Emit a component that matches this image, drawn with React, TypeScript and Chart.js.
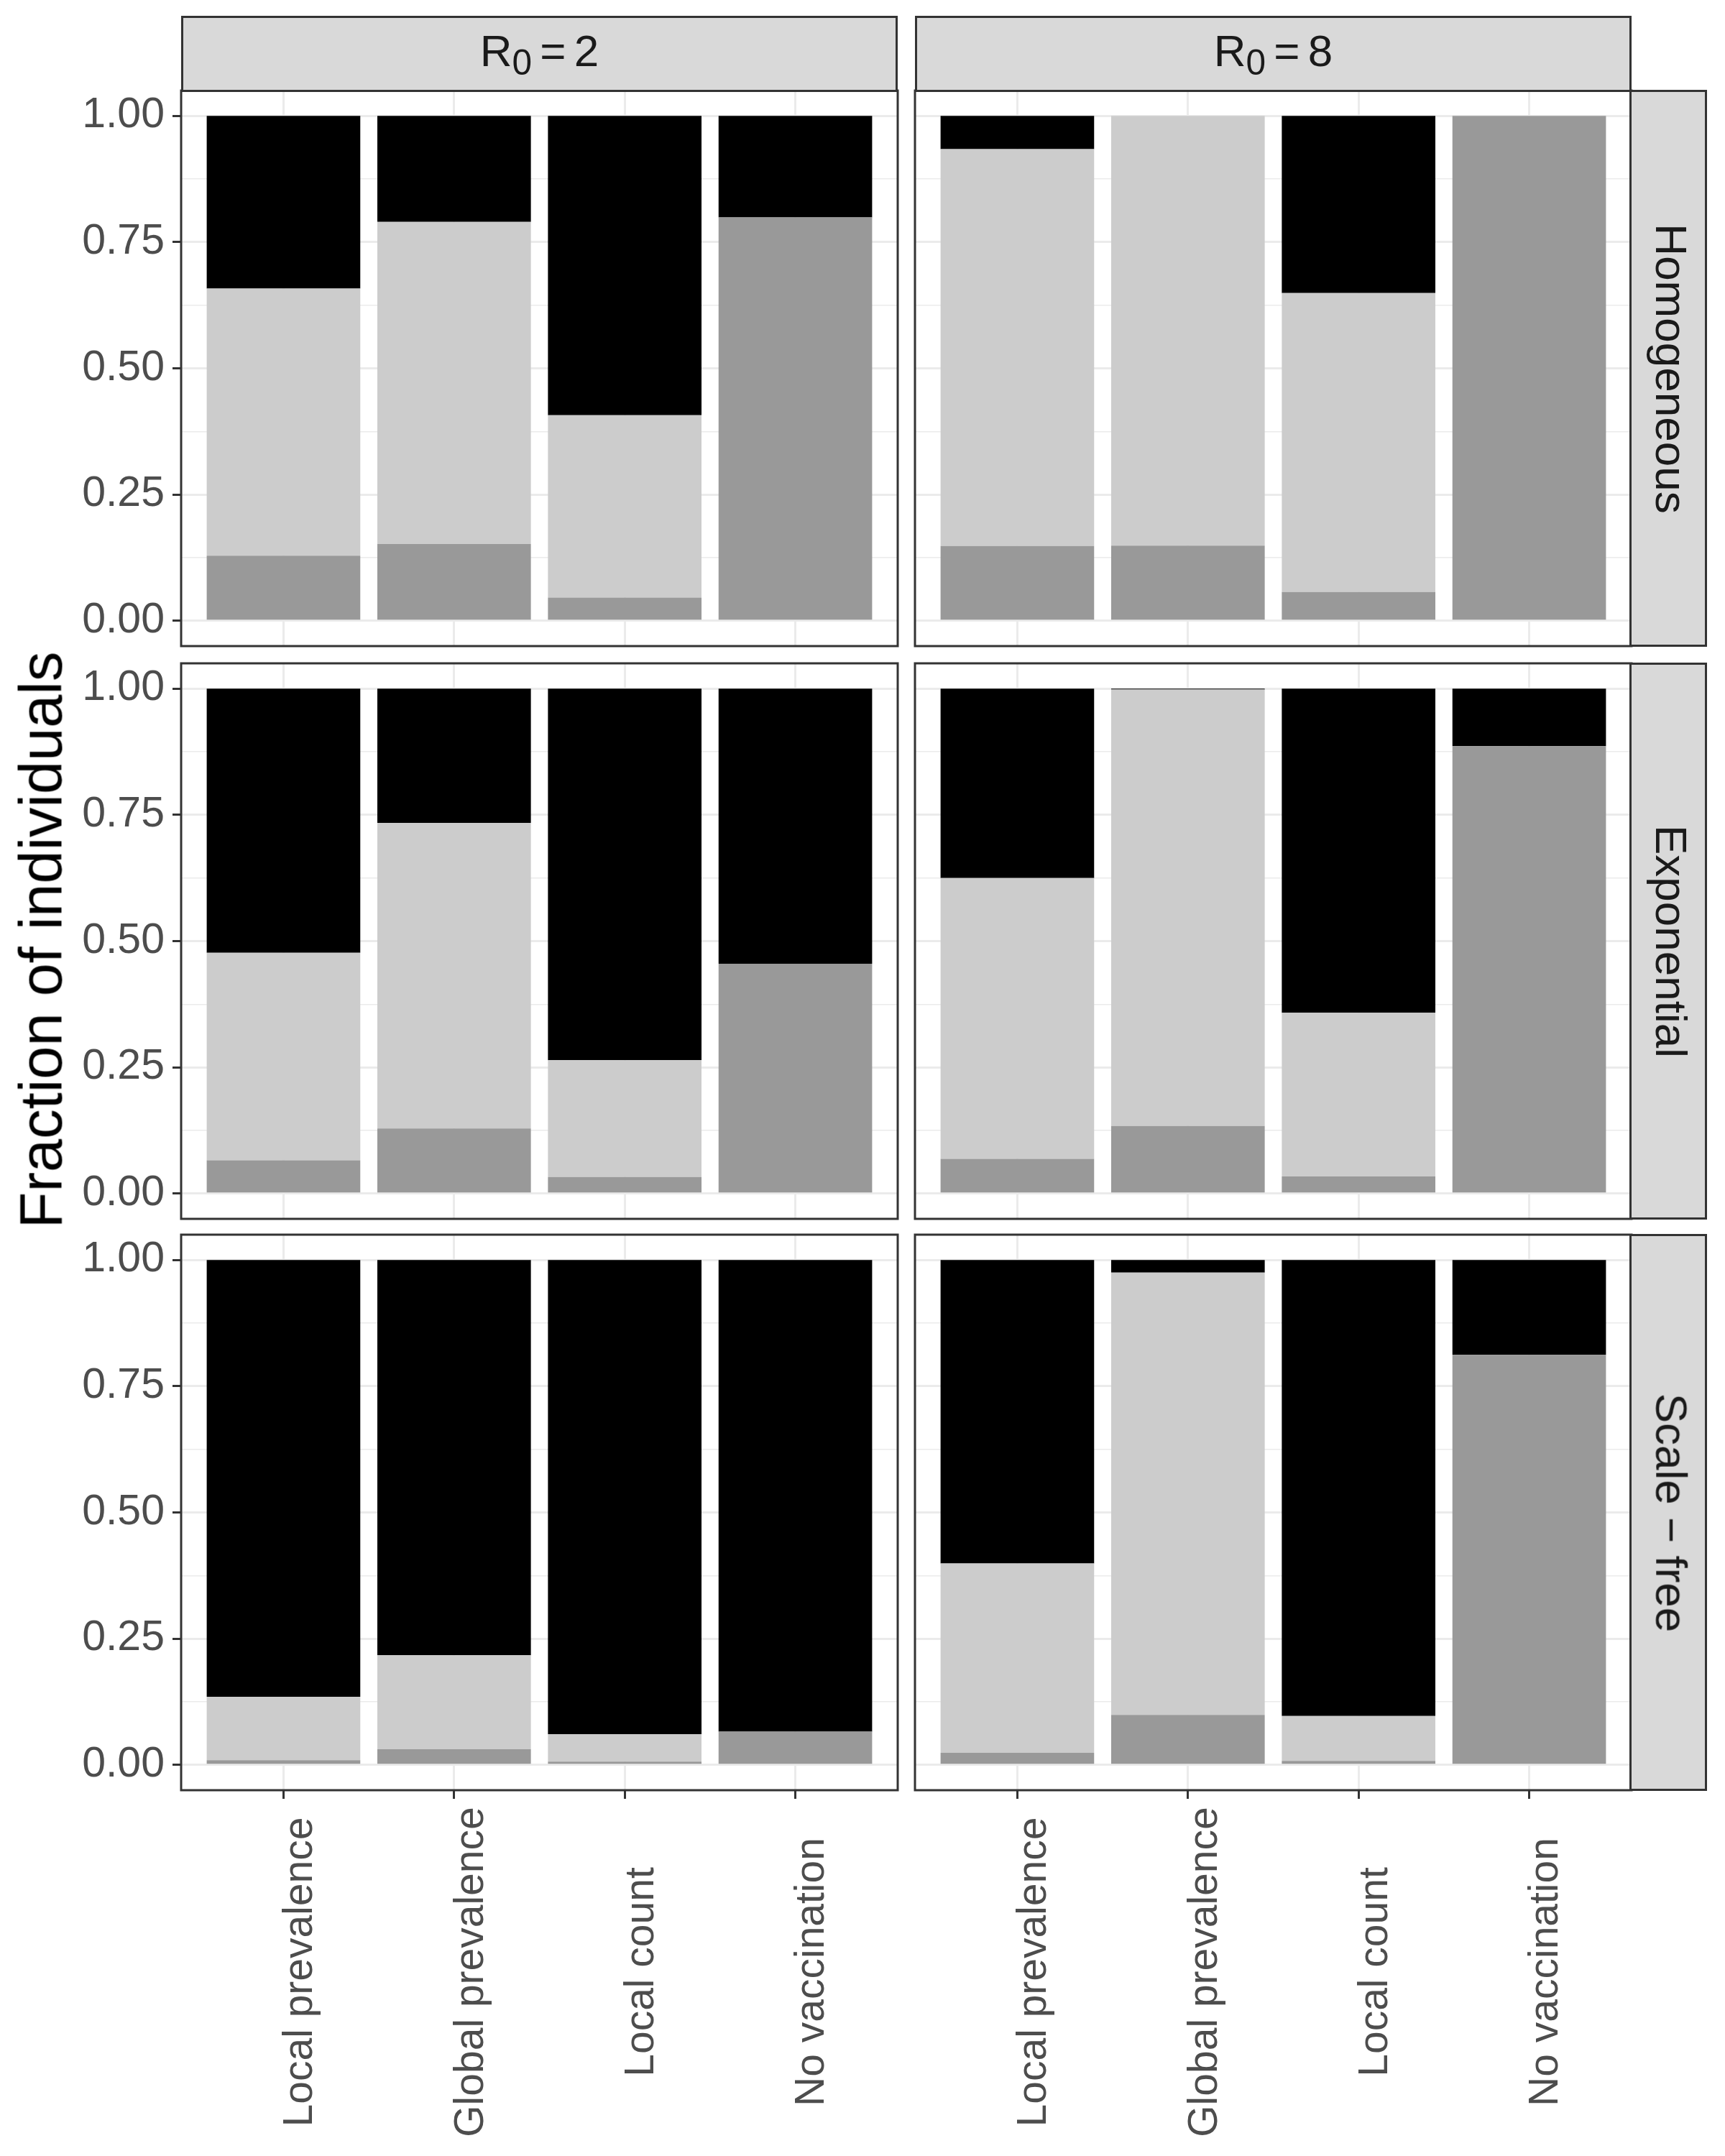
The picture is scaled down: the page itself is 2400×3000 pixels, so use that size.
import React, { useEffect, useRef } from 'react';
import { Chart, registerables, LinearScale } from 'chart.js';

// Linear x scale whose rotated tick labels are centred on the label anchor (ggplot hjust = 0.5)
class CenteredLinearScale extends LinearScale {
  static id = 'centeredLinear';
  static defaults = LinearScale.defaults;
  _getXAxisLabelAlignment() {
    return 'center';
  }
  _calculatePadding() {
    this.paddingLeft = 0;
    this.paddingRight = 0;
    this.paddingTop = 0;
    this.paddingBottom = 0;
  }
}

Chart.register(...registerables, CenteredLinearScale as any);

// ---------------- data ----------------
const categories = ['Local prevalence', 'Global prevalence', 'Local count', 'No vaccination'];
const r0Labels = ['2', '8'];
const networkLabels = ['Homogeneous', 'Exponential', 'Scale − free'];
const yBreaks = [0, 0.25, 0.5, 0.75, 1];
const yMinorBreaks = [0.125, 0.375, 0.625, 0.875];

// Homogeneous, R0 = 2
const infectedHomR2 = [0.129, 0.152, 0.046, 0.799];
const vaccinatedHomR2 = [0.529, 0.638, 0.361, 0];
const untouchedHomR2 = [0.342, 0.21, 0.593, 0.201];
// Homogeneous, R0 = 8
const infectedHomR8 = [0.148, 0.149, 0.057, 1.0];
const vaccinatedHomR8 = [0.786, 0.851, 0.592, 0];
const untouchedHomR8 = [0.066, 0, 0.351, 0];
// Exponential, R0 = 2
const infectedExpR2 = [0.066, 0.129, 0.033, 0.455];
const vaccinatedExpR2 = [0.411, 0.605, 0.231, 0];
const untouchedExpR2 = [0.523, 0.266, 0.736, 0.545];
// Exponential, R0 = 8
const infectedExpR8 = [0.069, 0.134, 0.034, 0.886];
const vaccinatedExpR8 = [0.556, 0.864, 0.324, 0];
const untouchedExpR8 = [0.375, 0.002, 0.642, 0.114];
// Scale-free, R0 = 2
const infectedSfR2 = [0.0095, 0.031, 0.0065, 0.066];
const vaccinatedSfR2 = [0.1255, 0.186, 0.0545, 0];
const untouchedSfR2 = [0.865, 0.783, 0.939, 0.934];
// Scale-free, R0 = 8
const infectedSfR8 = [0.024, 0.099, 0.008, 0.812];
const vaccinatedSfR8 = [0.375, 0.876, 0.089, 0];
const untouchedSfR8 = [0.601, 0.025, 0.903, 0.188];

const panelData = [
  [
    { infected: infectedHomR2, vaccinated: vaccinatedHomR2, untouched: untouchedHomR2 },
    { infected: infectedHomR8, vaccinated: vaccinatedHomR8, untouched: untouchedHomR8 },
  ],
  [
    { infected: infectedExpR2, vaccinated: vaccinatedExpR2, untouched: untouchedExpR2 },
    { infected: infectedExpR8, vaccinated: vaccinatedExpR8, untouched: untouchedExpR8 },
  ],
  [
    { infected: infectedSfR2, vaccinated: vaccinatedSfR2, untouched: untouchedSfR2 },
    { infected: infectedSfR8, vaccinated: vaccinatedSfR8, untouched: untouchedSfR8 },
  ],
];

// ---------------- layout ----------------
const FONT = '"Liberation Sans", Arial, Helvetica, sans-serif';
const PANEL_LEFT = [252, 1273];
const PANEL_TOP = [126, 923, 1718];
const PANEL_W = 997;
const PANEL_H = 773;
const PAD = 50;
const PAD_L = 40;
const Y_AXIS_W = 212;
const X_AXIS_H = 500;

const isMajor = (v: number) => yBreaks.some((b) => Math.abs(b - v) < 1e-9);

const panelBorder = {
  id: 'panelBorder',
  afterDraw(chart: any) {
    const { ctx, chartArea: a } = chart;
    ctx.save();
    ctx.strokeStyle = '#333333';
    ctx.lineWidth = 3;
    ctx.strokeRect(a.left, a.top, a.right - a.left, a.bottom - a.top);
    ctx.restore();
  },
};

function Panel({ row, col }: { row: number; col: number }) {
  const ref = useRef<HTMLCanvasElement>(null);
  const isBottom = row === 2;
  const isLeft = col === 0;
  const yW = isLeft ? Y_AXIS_W : 0;
  const xH = isBottom ? X_AXIS_H : 0;
  const padB = isBottom ? 0 : PAD;
  const canvasLeft = PANEL_LEFT[col] - PAD_L - yW;
  const canvasTop = PANEL_TOP[row] - PAD;
  const canvasW = PAD_L + yW + PANEL_W + PAD;
  const canvasH = PAD + PANEL_H + xH + padB;

  useEffect(() => {
    const d = panelData[row][col];
    const toXY = (arr: number[]) => arr.map((y, i) => ({ x: i + 1, y }));
    const chart = new Chart(ref.current as HTMLCanvasElement, {
      type: 'bar',
      data: {
        datasets: [
          { label: 'Infected', data: toXY(d.infected), backgroundColor: '#999999' },
          { label: 'Vaccinated', data: toXY(d.vaccinated), backgroundColor: '#CCCCCC' },
          { label: 'Never infected', data: toXY(d.untouched), backgroundColor: '#000000' },
        ],
      } as any,
      options: {
        responsive: false,
        animation: false,
        devicePixelRatio: 1,
        layout: { padding: { top: PAD, right: PAD, bottom: padB, left: PAD_L } },
        plugins: { legend: { display: false }, tooltip: { enabled: false }, title: { display: false } },
        datasets: { bar: { barPercentage: 0.9, categoryPercentage: 1, borderWidth: 0 } },
        scales: {
          x: {
            type: 'centeredLinear',
            min: 0.4,
            max: 4.6,
            stacked: true,
            offset: false,
            afterBuildTicks: (s: any) => {
              s.ticks = categories.map((_, i) => ({ value: i + 1 }));
            },
            afterFit: (s: any) => {
              s.height = xH;
            },
            border: { display: false },
            grid: {
              offset: false,
              color: '#EBEBEB',
              lineWidth: 3,
              drawTicks: isBottom,
              tickLength: 12,
              tickColor: '#333333',
              tickWidth: 3,
            },
            ticks: {
              display: isBottom,
              autoSkip: false,
              minRotation: 90,
              maxRotation: 90,
              padding: 241,
              labelOffset: 24,
              color: '#4D4D4D',
              font: { family: FONT, size: 57 },
              callback: (v: any) => categories[Math.round(Number(v)) - 1] ?? '',
            },
          },
          y: {
            type: 'linear',
            min: -0.05,
            max: 1.05,
            stacked: true,
            afterBuildTicks: (s: any) => {
              s.ticks = [...yBreaks, ...yMinorBreaks].sort((a, b) => a - b).map((v) => ({ value: v }));
            },
            afterFit: (s: any) => {
              s.width = yW;
            },
            border: { display: false },
            grid: {
              color: '#EBEBEB',
              lineWidth: (c: any) => (isMajor(c.tick.value) ? 3 : 1.5),
              drawTicks: isLeft,
              tickLength: 12,
              tickColor: (c: any) => (isMajor(c.tick.value) ? '#333333' : 'rgba(0,0,0,0)'),
              tickWidth: 3,
            },
            ticks: {
              display: isLeft,
              autoSkip: false,
              padding: 11,
              color: '#4D4D4D',
              font: { family: FONT, size: 59 },
              callback: (v: any) => (isMajor(Number(v)) ? Number(v).toFixed(2) : ''),
            },
          },
        } as any,
      },
      plugins: [panelBorder],
    } as any);
    return () => chart.destroy();
  }, [row, col]);

  return (
    <canvas
      ref={ref}
      width={canvasW}
      height={canvasH}
      style={{ position: 'absolute', left: canvasLeft, top: canvasTop, width: canvasW, height: canvasH }}
    />
  );
}

const stripBase: React.CSSProperties = {
  position: 'absolute',
  boxSizing: 'border-box',
  background: '#D9D9D9',
  border: '3px solid #333333',
  display: 'flex',
  alignItems: 'center',
  justifyContent: 'center',
  fontFamily: FONT,
  fontSize: 62,
  color: '#1A1A1A',
  lineHeight: 1,
  whiteSpace: 'nowrap',
  overflow: 'visible',
};

export default function App() {
  const panels = [];
  for (let r = 0; r < 3; r++) for (let c = 0; c < 2; c++) panels.push(<Panel key={`${r}-${c}`} row={r} col={c} />);

  return (
    <div
      style={{
        position: 'absolute',
        left: 0,
        top: 0,
        width: 2400,
        height: 3000,
        background: '#FFFFFF',
        overflow: 'hidden',
        fontFamily: FONT,
      }}
    >
      {panels}
      {r0Labels.map((r0, c) => (
        <div key={`top-${c}`} style={{ ...stripBase, left: PANEL_LEFT[c], top: 22, width: PANEL_W, height: 106 }}>
          <span style={{ transform: 'translateY(-4px)', wordSpacing: -6 }}>
            R<span style={{ fontSize: '0.8em', position: 'relative', top: '0.25em' }}>0</span> = {r0}
          </span>
        </div>
      ))}
      {networkLabels.map((name, r) => (
        <div
          key={`right-${r}`}
          style={{ ...stripBase, left: PANEL_LEFT[1] + PANEL_W - 3, top: PANEL_TOP[r] - 1, width: 108, height: PANEL_H + 2 }}
        >
          <span style={{ display: 'inline-block', transform: 'translateX(4px) rotate(90deg)' }}>{name}</span>
        </div>
      ))}
      <div
        style={{
          position: 'absolute',
          left: 57,
          top: 1308,
          transform: 'translate(-50%, -50%) rotate(-90deg)',
          whiteSpace: 'nowrap',
          fontFamily: FONT,
          fontSize: 83,
          lineHeight: 1,
          color: '#000000',
        }}
      >
        Fraction of individuals
      </div>
    </div>
  );
}
